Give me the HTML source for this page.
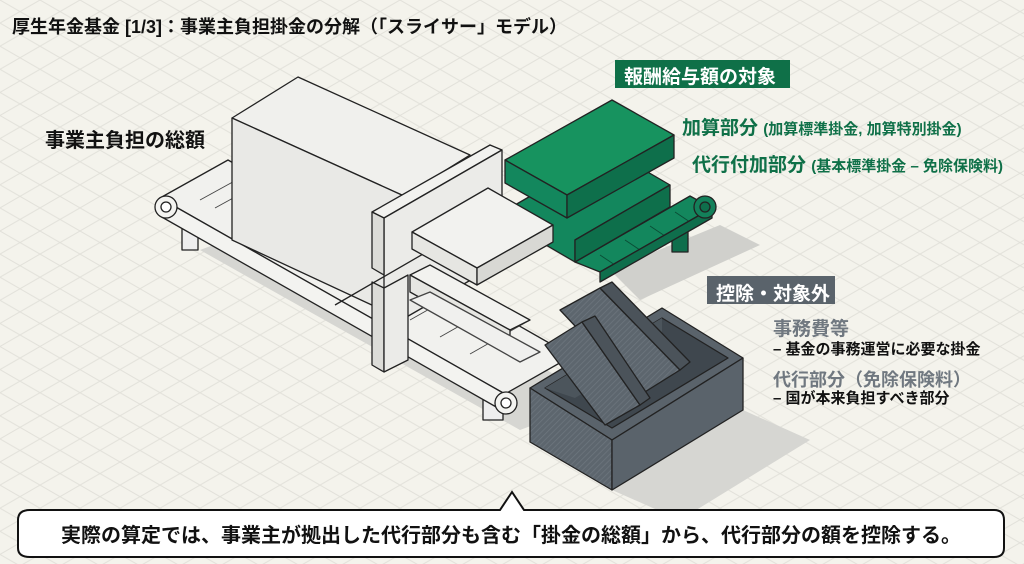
<!DOCTYPE html>
<html><head><meta charset="utf-8"><style>
html,body{margin:0;padding:0;width:1024px;height:564px;overflow:hidden;background:#f4f3ec}
body{position:relative;font-family:"Liberation Sans","Noto Sans CJK JP",sans-serif}
.t{position:absolute;white-space:nowrap;font-weight:bold}
</style></head><body>
<svg width="1024" height="564" style="position:absolute;left:0;top:0">
<defs>
<pattern id="grid" width="40" height="23.1" patternUnits="userSpaceOnUse">
<path d="M0 0 L40 23.1 M0 23.1 L40 0" stroke="#e2e1da" stroke-width="1" fill="none"/>
</pattern>
<pattern id="hatch" width="4" height="4" patternUnits="userSpaceOnUse" patternTransform="rotate(45)">
<rect width="4" height="4" fill="#5d666e"/><line x1="0" y1="0" x2="0" y2="4" stroke="#6d767e" stroke-width="1.5"/>
</pattern>
</defs>
<rect width="1024" height="564" fill="url(#grid)"/>
<g stroke="#222" stroke-width="1.3" stroke-linejoin="round">
<polygon points="200,250 520,430 600,400 280,220" fill="#d6d6d2" stroke="none"/>
<polygon points="610,270 720,225 760,245 640,300" fill="#d0d0cc" stroke="none"/>
<polygon points="612,490 743,410 810,440 680,520" fill="#d6d6d2" stroke="none"/>
<polygon points="182,228 198,228 198,250 182,250" fill="#eee"/>
<polygon points="483,395 503,395 503,420 483,420" fill="#eee"/>
<polygon points="160,198 228,160 572,356 505,394" fill="#f1f1ee"/>
<g stroke="#444" stroke-width="0.9">
<line x1="250" y1="228" x2="300" y2="200"/><line x1="280" y1="245" x2="330" y2="217"/><line x1="310" y1="262" x2="360" y2="234"/><line x1="340" y1="279" x2="390" y2="251"/><line x1="410" y1="320" x2="470" y2="286"/><line x1="440" y1="337" x2="500" y2="303"/><line x1="470" y1="354" x2="530" y2="320"/><line x1="200" y1="200" x2="240" y2="178"/><line x1="215" y1="208" x2="255" y2="186"/>
</g>
<polygon points="160,198 505,394 505,412 160,216" fill="#f3f3f0"/>
<circle cx="166" cy="207" r="11" fill="#f3f3f0"/><circle cx="166" cy="207" r="5" fill="#fff"/>
<circle cx="506" cy="403" r="11" fill="#f3f3f0"/><circle cx="506" cy="403" r="5" fill="#fff"/>
<!-- green belt -->
<polygon points="672,232 688,232 688,252 672,252" fill="#0f6e4c"/>
<polygon points="575,262 690,196 712,208 600,272" fill="#13875d"/>
<g stroke="#0a4d35" stroke-width="0.9">
<line x1="600" y1="255" x2="615" y2="265"/><line x1="625" y1="240" x2="640" y2="250"/><line x1="650" y1="226" x2="665" y2="236"/><line x1="675" y1="212" x2="690" y2="222"/>
</g>
<polygon points="600,272 712,208 712,218 600,282" fill="#0f6e4c"/>
<circle cx="705" cy="207" r="11" fill="#13805a"/><circle cx="705" cy="207" r="5" fill="#0f6e4c"/>
<polygon points="515,205 610,150 670,185 575,240 575,262 515,227" fill="#13875d"/>
<polygon points="575,240 670,185 670,207 575,262" fill="#0e6f4b"/>
<polygon points="505,160 612,100 674,135 567,195" fill="#17935f"/>
<polygon points="505,160 567,195 567,218 505,183" fill="#13875d"/>
<polygon points="567,195 674,135 674,158 567,218" fill="#0e6f4b"/>
<polygon points="232,118 298,77 470,155 404,196" fill="#f0f0ed"/>
<polygon points="232,118 404,196 404,320 232,240" fill="#e9e9e6"/>
<polygon points="372,212 490,145 502,150 384,218" fill="#f2f2ef"/>
<polygon points="384,218 502,150 502,262 384,330" fill="#ebebe8"/>
<polygon points="372,212 384,218 384,275 372,268" fill="#dcdcd8"/>
<polygon points="372,282 384,288 384,372 372,365" fill="#dcdcd8"/>
<polygon points="384,288 408,275 408,360 384,372" fill="#ebebe8"/>
<line x1="335" y1="305" x2="430" y2="250"/>
<polygon points="410,275 510,330 530,320 430,265" fill="#f2f2ef"/>
<polygon points="410,275 510,330 510,348 410,292" fill="#e6e6e2"/>
<polygon points="410,300 520,362 540,352 430,292" fill="#f0f0ee" stroke="#444"/>
<polygon points="412,232 488,188 553,225 477,268" fill="#f2f2ef"/>
<polygon points="412,232 477,268 477,285 412,249" fill="#e6e6e2"/>
<polygon points="477,268 553,225 553,242 477,285" fill="#d8d8d4"/>
<polygon points="530,388 662,308 743,358 612,440" fill="#5a636b"/>
<polygon points="545,388 662,318 728,358 612,428" fill="#3f474e"/>
<polygon points="545,388 662,318 662,345 575,398" fill="#4c555c" stroke="none"/>
<polygon points="560,310 600,288 680,370 640,395" fill="url(#hatch)"/>
<polygon points="600,288 612,282 690,362 680,370" fill="#4b535a"/>
<polygon points="545,345 582,322 640,405 605,425" fill="url(#hatch)"/>
<polygon points="582,322 595,316 650,398 640,405" fill="#4b535a"/>
<polygon points="530,388 612,440 612,490 530,442" fill="url(#hatch)"/>
<polygon points="612,440 743,358 743,410 612,490" fill="#5a636b"/>
</g>
<path d="M30 510 H500 L512 492 L524 510 H994 Q1004 510 1004 520 V548 Q1004 557 994 557 H30 Q18 557 18 548 V520 Q18 510 30 510 Z" fill="#fff" stroke="#111" stroke-width="2"/>
<rect x="615" y="60" width="175" height="28" fill="#0f7048"/>
<rect x="707" y="276" width="128" height="28" fill="#5a636b"/>
</svg>
<div class="t" style="left:12px;top:13px;font-size:18px;color:#111">厚生年金基金 [1/3]：事業主負担掛金の分解（「スライサー」モデル）</div>
<div class="t" style="left:45px;top:124px;font-size:20px;color:#111">事業主負担の総額</div>
<div class="t" style="left:624px;top:62px;font-size:19px;color:#fff">報酬給与額の対象</div>
<div class="t" style="left:682px;top:113px;font-size:19px;color:#0f7048">加算部分 <span style="font-size:15px">(加算標準掛金, 加算特別掛金)</span></div>
<div class="t" style="left:692px;top:150px;font-size:19px;color:#0f7048">代行付加部分 <span style="font-size:15px">(基本標準掛金 – 免除保険料)</span></div>
<div class="t" style="left:716px;top:279px;font-size:19px;color:#fff">控除・対象外</div>
<div class="t" style="left:773px;top:314px;font-size:19px;color:#707880">事務費等</div>
<div class="t" style="left:773px;top:338px;font-size:15px;color:#111">– 基金の事務運営に必要な掛金</div>
<div class="t" style="left:773px;top:366px;font-size:18px;color:#707880">代行部分（免除保険料）</div>
<div class="t" style="left:773px;top:387px;font-size:15px;color:#111">– 国が本来負担すべき部分</div>
<div class="t" style="left:18px;width:986px;top:519px;text-align:center;font-size:20px;color:#111">実際の算定では、事業主が拠出した代行部分も含む「掛金の総額」から、代行部分の額を控除する。</div>
</body></html>
